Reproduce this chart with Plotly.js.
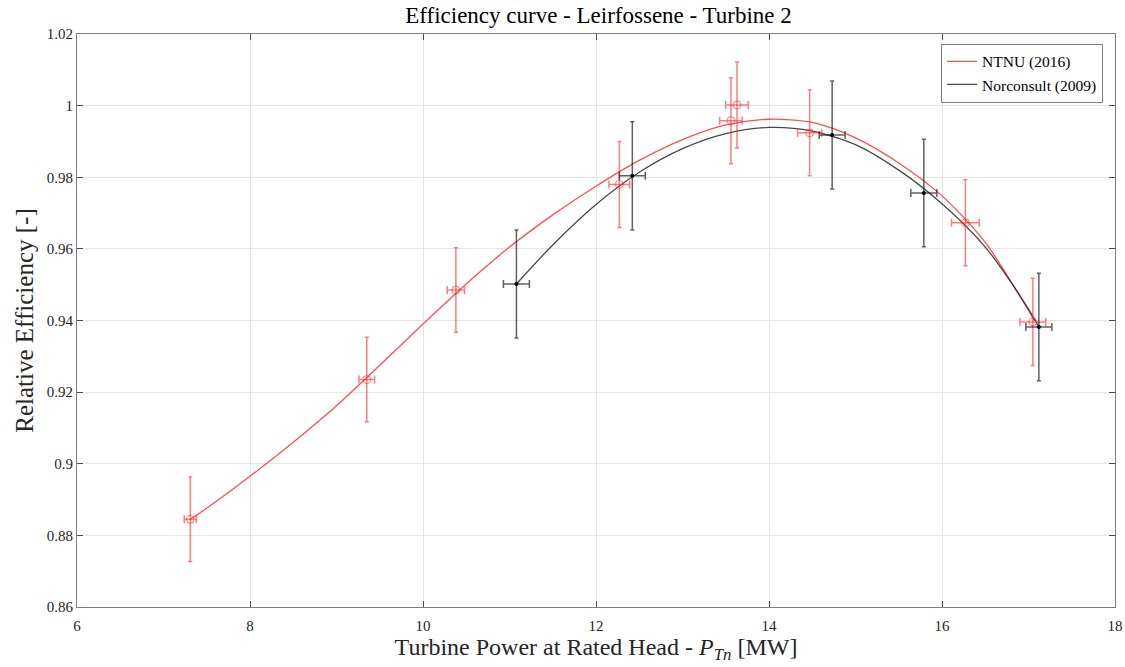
<!DOCTYPE html>
<html>
<head>
<meta charset="utf-8">
<script src="https://cdn.plot.ly/plotly-3.0.1.min.js"></script>
<style>html,body{margin:0;padding:0;background:#fff;}#chart{width:1125px;height:667px;}</style>
</head>
<body>
<div id="chart"></div>
<script>
// NTNU (2016) measured points
const ntnuX = [7.31, 9.35, 10.38, 12.27, 13.56, 13.63, 14.47, 16.27, 17.05];
const ntnuY = [0.8845, 0.9235, 0.9485, 0.9780, 0.9958, 1.0002, 0.9924, 0.9673, 0.9396];
const ntnuErrX = [0.07, 0.09, 0.10, 0.12, 0.13, 0.13, 0.14, 0.16, 0.15];
const ntnuErrY = [0.0118, 0.0118, 0.0118, 0.0120, 0.0120, 0.0120, 0.0120, 0.0120, 0.0122];
// NTNU fitted curve
const ntnuCurveX = [7.31, 7.5, 8, 8.5, 9, 9.5, 10, 10.5, 11, 11.5, 12, 12.5, 13, 13.5, 14, 14.5, 15, 15.5, 16, 16.5, 17, 17.07];
const ntnuCurveY = [0.8845, 0.8876, 0.8965, 0.9060, 0.9162, 0.9275, 0.9390, 0.9502, 0.9605, 0.9695, 0.9775, 0.9847, 0.9905, 0.9946, 0.9962, 0.9953, 0.9910, 0.9840, 0.9748, 0.9618, 0.9428, 0.9399];
// Norconsult (2009) measured points
const norX = [11.08, 12.42, 14.73, 15.79, 17.12];
const norY = [0.9502, 0.9804, 0.9918, 0.9756, 0.9382];
const norErrX = [0.15, 0.15, 0.15, 0.15, 0.15];
const norErrY = [0.0151, 0.0151, 0.0151, 0.0150, 0.0150];
// Norconsult fitted curve
const norCurveX = [11.08, 11.5, 12, 12.5, 13, 13.5, 14, 14.5, 15, 15.5, 16, 16.5, 17, 17.12];
const norCurveY = [0.9502, 0.9611, 0.9724, 0.9814, 0.9880, 0.9922, 0.9939, 0.9929, 0.9891, 0.9820, 0.9726, 0.9605, 0.9432, 0.9382];

const xTicks = [6, 8, 10, 12, 14, 16, 18];
const yTicks = [0.86, 0.88, 0.9, 0.92, 0.94, 0.96, 0.98, 1, 1.02];
const yTickText = ['0.86', '0.88', '0.9', '0.92', '0.94', '0.96', '0.98', '1', '1.02'];

const RED = 'rgba(255,60,60,0.9)';
const REDERR = 'rgba(255,40,40,0.6)';
const BLK = 'rgba(40,40,40,0.85)';
const BLKERR = 'rgba(30,30,30,0.7)';

const traces = [
  {x: ntnuCurveX, y: ntnuCurveY, mode: 'lines', name: 'NTNU (2016)',
   line: {color: RED, width: 1.3, shape: 'spline', smoothing: 0.8}},
  {x: norCurveX, y: norCurveY, mode: 'lines', name: 'Norconsult (2009)',
   line: {color: BLK, width: 1.3, shape: 'spline', smoothing: 0.8}},
  {x: ntnuX, y: ntnuY, mode: 'markers', showlegend: false,
   marker: {symbol: 'circle-open', size: 8, color: REDERR, line: {width: 1, color: REDERR}},
   error_x: {type: 'data', array: ntnuErrX, color: REDERR, thickness: 1.5, width: 4},
   error_y: {type: 'data', array: ntnuErrY, color: REDERR, thickness: 1.5, width: 2}},
  {x: norX, y: norY, mode: 'markers', showlegend: false,
   marker: {symbol: 'circle', size: 4, color: 'rgb(0,0,0)'},
   error_x: {type: 'data', array: norErrX, color: BLKERR, thickness: 1.5, width: 4},
   error_y: {type: 'data', array: norErrY, color: BLKERR, thickness: 1.5, width: 2}}
];

const serif = 'Liberation Serif, Times New Roman, serif';
const layout = {
  width: 1125, height: 667,
  margin: {l: 77, r: 10, t: 34, b: 60},
  paper_bgcolor: '#fff', plot_bgcolor: '#fff',
  font: {family: serif, color: '#262626'},
  title: {text: 'Efficiency curve - Leirfossene - Turbine 2', x: 0.532, xanchor: 'center', y: 0.977, yanchor: 'middle',
          font: {family: serif, size: 23, color: '#000'}},
  xaxis: {range: [6, 18], tickvals: xTicks, ticktext: xTicks.map(String),
          showgrid: true, gridcolor: '#e6e6e6', gridwidth: 1, zeroline: false,
          showline: true, linecolor: '#7f7f7f', linewidth: 1, mirror: 'ticks',
          ticks: 'inside', ticklen: 6, tickcolor: '#4d4d4d', ticklabelstandoff: 5,
          tickfont: {family: serif, size: 15, color: '#262626'}, automargin: false,
          title: {text: 'Turbine Power at Rated Head - <i>P</i><sub><i>Tn</i></sub> [MW]', standoff: 4,
                  font: {family: serif, size: 24, color: '#262626'}}},
  yaxis: {range: [0.86, 1.02], tickvals: yTicks, ticktext: yTickText,
          showgrid: true, gridcolor: '#e6e6e6', gridwidth: 1, zeroline: false,
          showline: true, linecolor: '#7f7f7f', linewidth: 1, mirror: 'ticks',
          ticks: 'inside', ticklen: 6, tickcolor: '#4d4d4d', automargin: false,
          tickfont: {family: serif, size: 15, color: '#262626'},
          title: {text: 'Relative Efficiency [-]', standoff: 6,
                  font: {family: serif, size: 25, color: '#262626'}}},
  legend: {x: 0.9885, xanchor: 'right', y: 0.983, yanchor: 'top',
           bgcolor: '#fff', bordercolor: '#7f7f7f', borderwidth: 1,
           font: {family: serif, size: 15.5, color: '#000'}, tracegroupgap: 0, itemwidth: 30},
  showlegend: true
};

Plotly.newPlot('chart', traces, layout, {displayModeBar: false, responsive: false});
</script>
</body>
</html>
